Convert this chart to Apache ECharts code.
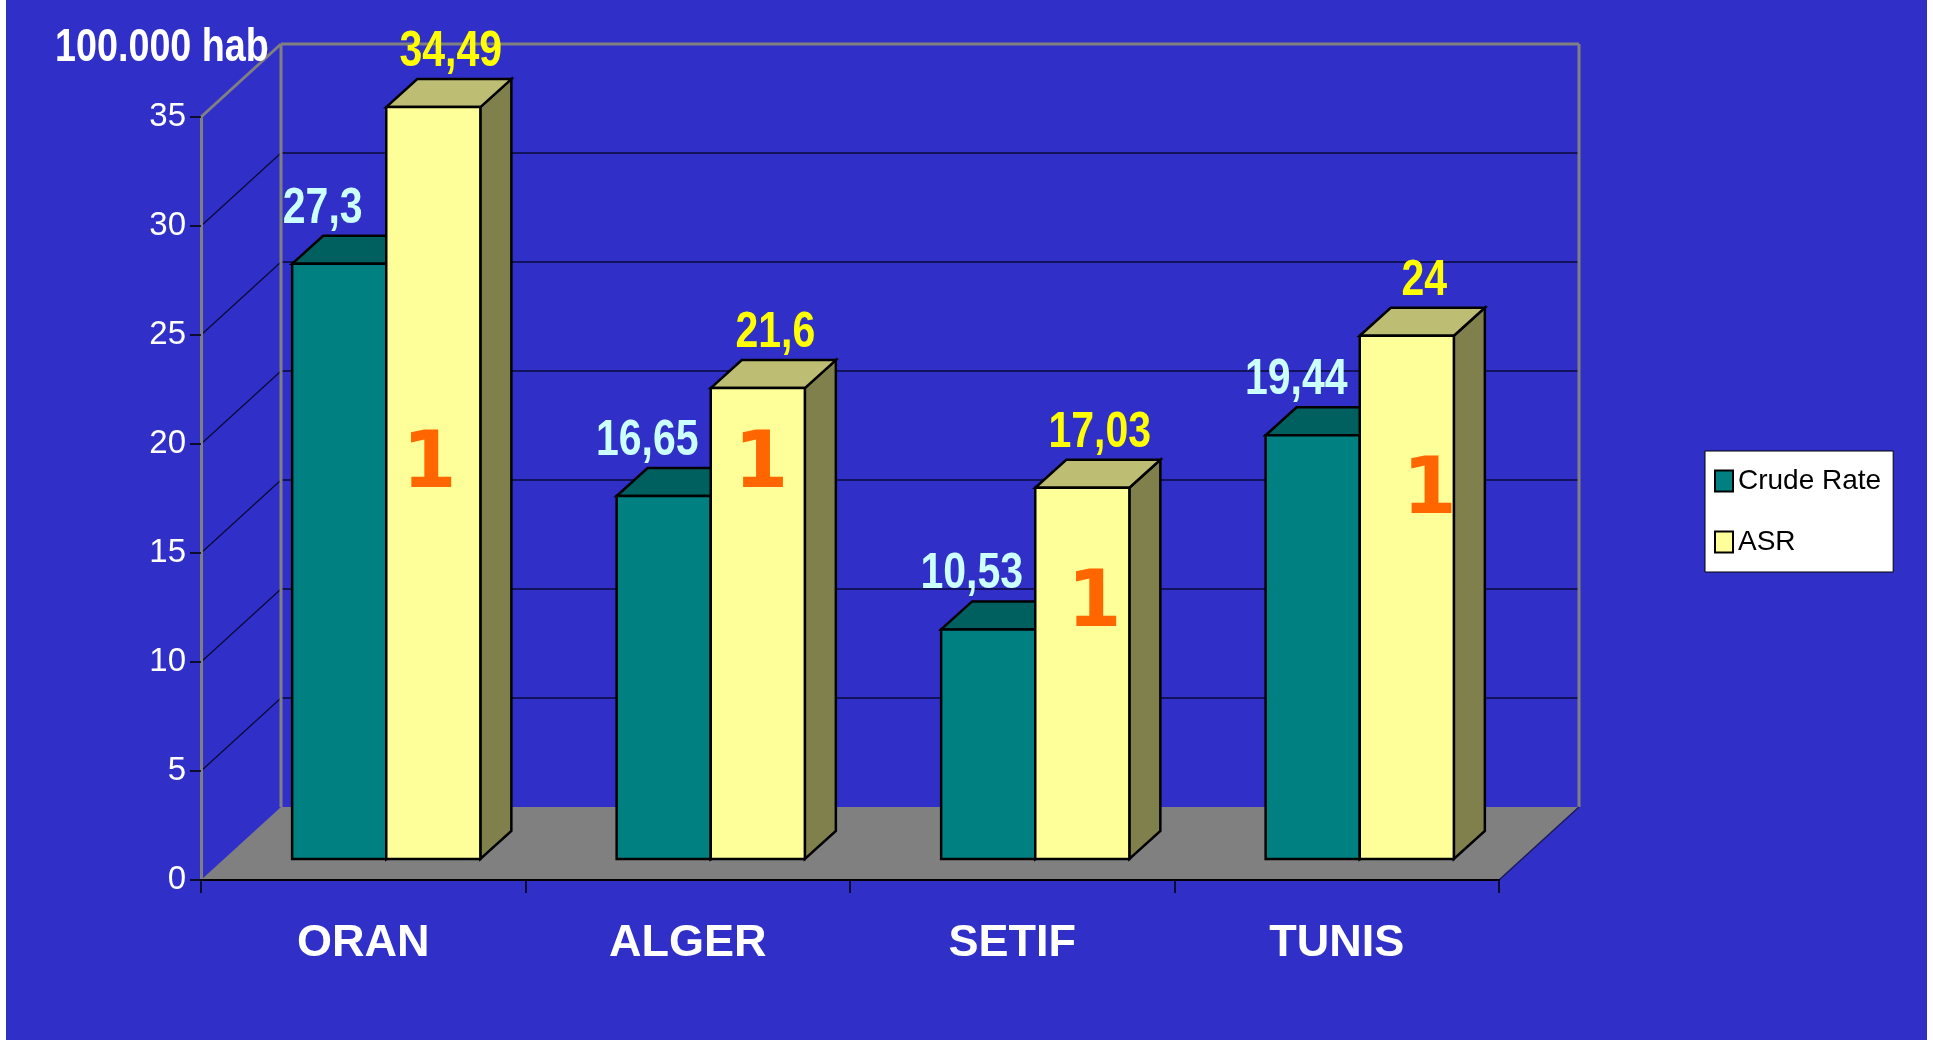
<!DOCTYPE html>
<html>
<head>
<meta charset="utf-8">
<script src="https://cdn.jsdelivr.net/npm/echarts@6/dist/echarts.min.js"></script>
<style>
html,body{margin:0;padding:0;background:#fff;}
#c{width:1933px;height:1040px;background:linear-gradient(to right,#fff 0,#fff 6px,#3030c8 6px,#3030c8 1927px,#fff 1927px);}
</style>
</head>
<body>
<div id="c"></div>
<script>
// ---- data ----
const categories = ['ORAN', 'ALGER', 'SETIF', 'TUNIS'];
const crudeRate = [27.3, 16.65, 10.53, 19.44];
const asr = [34.49, 21.6, 17.03, 24];
const yTicks = [0, 5, 10, 15, 20, 25, 30, 35];
const unitTitle = '100.000 hab';
const rankText = ['1', '1', '1', '1'];
const rankAt = [18.0, 18.0, 11.6, 16.8];      // height (value units) of rank marks
const rankShift = [-0.012, 0.01, 0.037, 0.07]; // horizontal shift in category-band units
const seriesNames = ['Crude Rate', 'ASR'];

// ---- drawing constants ----
const NARROW = "'Liberation Sans Narrow','Arial Narrow','Liberation Sans',sans-serif";
const SQUEEZE = 0.82;           // horizontal squeeze imitating a narrow face
const DX = 80, DY = -73;        // depth of the floor / back wall
const PDX = 23, PDY = -21;      // bar front plane
const BDX = 31, BDY = -28;      // bar depth
const BAR_FRAC = 0.29;

const fmt = v => String(v).replace('.', ',');

function frameRender(params, api) {
  const bw = api.size([1, 0])[0];
  const x0 = api.coord([0, 0])[0] - bw / 2;
  const x1 = api.coord([categories.length - 1, 0])[0] + bw / 2;
  const yF = t => api.coord([0, t])[1];
  const y0 = yF(0), yT = yF(yTicks[yTicks.length - 1]);
  const ch = [];
  ch.push({type: 'polygon', shape: {points: [[x0, y0], [x1, y0], [x1 + DX, y0 + DY], [x0 + DX, y0 + DY]]},
           style: {fill: '#808080'}});
  yTicks.forEach((t, k) => {
    if (t === 0) return;
    const yf = yF(t);
    const top = k === yTicks.length - 1;
    const col = top ? '#808080' : '#0a0a3a';
    const w = top ? 3 : 1.3;
    ch.push({type: 'line', shape: {x1: x0 + DX, y1: yf + DY, x2: x1 + DX, y2: yf + DY}, style: {stroke: col, lineWidth: w}});
    ch.push({type: 'line', shape: {x1: x0, y1: yf, x2: x0 + DX, y2: yf + DY}, style: {stroke: col, lineWidth: w}});
  });
  ch.push({type: 'line', shape: {x1: x0 + DX, y1: yT + DY, x2: x0 + DX, y2: y0 + DY}, style: {stroke: '#808080', lineWidth: 3}});
  ch.push({type: 'line', shape: {x1: x1 + DX, y1: yT + DY, x2: x1 + DX, y2: y0 + DY}, style: {stroke: '#808080', lineWidth: 3}});
  ch.push({type: 'line', shape: {x1: x1, y1: y0, x2: x1 + DX, y2: y0 + DY}, style: {stroke: '#1a1a5a', lineWidth: 1.5}});
  return {type: 'group', children: ch};
}

function makeBarRender(which, colors) {
  return function (params, api) {
    const i = api.value(0), v = api.value(1);
    const bw = api.size([1, 0])[0];
    const barW = bw * BAR_FRAC;
    const c = api.coord([i, 0]);
    const yBot = c[1] + PDY;
    const yTop = api.coord([i, v])[1] + PDY;
    const left = which === 0 ? c[0] + PDX - barW : c[0] + PDX;
    const right = left + barW;
    const st = {stroke: '#000', lineWidth: 2.5, lineJoin: 'miter'};
    const ch = [
      {type: 'polygon', shape: {points: [[right, yTop], [right + BDX, yTop + BDY], [right + BDX, yBot + BDY], [right, yBot]]},
       style: Object.assign({fill: colors.side}, st)},
      {type: 'polygon', shape: {points: [[left, yTop], [left + BDX, yTop + BDY], [right + BDX, yTop + BDY], [right, yTop]]},
       style: Object.assign({fill: colors.top}, st)},
      {type: 'rect', shape: {x: left, y: yTop, width: barW, height: yBot - yTop},
       style: Object.assign({fill: colors.front}, st)}
    ];
    const topCx = (left + right) / 2 + BDX / 2;
    ch.push({type: 'text', z2: 10,
      x: topCx + (which === 0 ? -32 : 2), y: yTop + BDY - 27, scaleX: SQUEEZE,
      style: {
        text: fmt(v), x: 0, y: 0,
        fill: colors.label, fontSize: 50, fontWeight: 'bold', fontFamily: NARROW,
        align: 'center', verticalAlign: 'middle'}});
    if (which === 1) {
      ch.push({type: 'text', z2: 11, style: {
        text: rankText[i], x: (left + right) / 2 + rankShift[i] * bw,
        y: api.coord([i, rankAt[i]])[1] + PDY,
        fill: '#ff6600', fontSize: 78, fontWeight: 'bold', fontFamily: "'DejaVu Sans',sans-serif",
        align: 'center', verticalAlign: 'middle'}});
    }
    return {type: 'group', children: ch};
  };
}

const chart = echarts.init(document.getElementById('c'));
chart.setOption({
  backgroundColor: 'transparent',
  animation: false,
  graphic: [{
    type: 'text', x: 55, y: 48, scaleX: SQUEEZE, z: 10,
    style: {text: unitTitle, x: 0, y: 0, fill: '#fff', fontSize: 46, fontWeight: 'bold',
            fontFamily: NARROW, align: 'left', verticalAlign: 'middle'}
  }],
  legend: {
    data: seriesNames, orient: 'vertical', left: 1705, top: 451,
    backgroundColor: '#fff', borderColor: '#000', borderWidth: 1,
    padding: [16, 12, 16, 9], itemGap: 33, itemWidth: 18, itemHeight: 21,
    icon: 'rect',
    itemStyle: {borderColor: '#000', borderWidth: 2},
    textStyle: {color: '#000', fontSize: 28, fontFamily: NARROW}
  },
  grid: {left: 201, right: 434, top: 117, bottom: 160},
  xAxis: {
    type: 'category', data: categories, z: 5,
    axisLine: {lineStyle: {color: '#000', width: 2}},
    axisTick: {show: true, length: 13, lineStyle: {color: '#000', width: 1.5}},
    axisLabel: {color: '#fff', fontSize: 45, fontWeight: 'bold', fontFamily: NARROW, margin: 41},
    splitLine: {show: false}
  },
  yAxis: {
    type: 'value', min: 0, max: 35, interval: 5, z: 5,
    axisLine: {show: true, lineStyle: {color: '#808080', width: 3}},
    axisTick: {show: true, length: 11, lineStyle: {color: '#000', width: 1.5}},
    axisLabel: {color: '#fff', fontSize: 33, fontFamily: NARROW, margin: 15},
    splitLine: {show: false}
  },
  series: [
    {type: 'custom', name: 'frame', z: 1, silent: true, data: [[0, 0]], encode: {x: 0, y: 1},
     renderItem: frameRender},
    {type: 'custom', name: seriesNames[0], z: 6, itemStyle: {color: '#008080'},
     data: crudeRate.map((v, i) => [i, v]), encode: {x: 0, y: 1},
     renderItem: makeBarRender(0, {front: '#008080', top: '#006060', side: '#004848', label: '#ccffff'})},
    {type: 'custom', name: seriesNames[1], z: 7, itemStyle: {color: '#ffff99'},
     data: asr.map((v, i) => [i, v]), encode: {x: 0, y: 1},
     renderItem: makeBarRender(1, {front: '#ffff99', top: '#bdbd73', side: '#80804d', label: '#ffff00'})}
  ]
});
</script>
</body>
</html>
